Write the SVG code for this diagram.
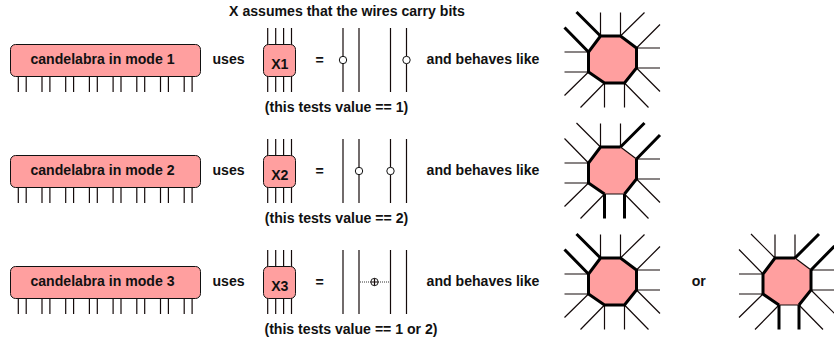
<svg xmlns="http://www.w3.org/2000/svg" xmlns:xlink="http://www.w3.org/1999/xlink" width="834" height="340" viewBox="0 0 834 340">
<style>
text{font-family:"Liberation Sans",Arial,sans-serif;font-weight:bold;font-size:14.1px;fill:#111}
.m{text-anchor:middle}
.w{fill:none;stroke:#140a0a;stroke-width:1.2}
.b{fill:#ff9f9f;stroke:#111;stroke-width:1}
.t{fill:none;stroke:#000;stroke-width:3}
.c{fill:#fff;stroke:#111;stroke-width:1}
.d{fill:none;stroke:#333;stroke-width:1;stroke-dasharray:1 1}
.o{fill:#ff9f9f;stroke:none}
</style>
<defs>
<g id="cand">
<path class="w" d="M18.300 76V92M26.200 76V92M42 76V92M49.900 76V92M65.700 76V92M73.600 76V92M89.400 76V92M97.300 76V92M113.100 76V92M121 76V92M136.800 76V92M144.700 76V92M160.500 76V92M168.400 76V92M184.200 76V92M192.100 76V92"/>
<rect class="b" x="10.500" y="44.500" width="190" height="32" rx="5"/>
</g>
<g id="xbox">
<path class="w" d="M267.700 28V92M275.700 28V92M283.600 28V92M291.500 28V92"/>
<rect class="b" x="263.500" y="44.500" width="32" height="32" rx="5"/>
</g>
<path id="lines" class="w" d="M343 28V92M359 28V92M390.500 28V92M406.500 28V92"/>
<path id="spokes" class="w" d="M600.500 36V12.500M620.500 36V12.500M620.500 36L644.500 12.500M636.500 48L660 24.500M636.500 48H660M636.500 68H660M636.500 68L660 91.500M624.500 83L648.500 107.500M624.500 83V107.500M604.500 83V107.500M604.500 83L580.500 107.500M588.500 72L564.500 95.500M588.500 72H564.500M588.500 52H564.500"/>
<g id="octA">
<use xlink:href="#spokes"/>
<polygon class="o" points="600.500,36 620.500,36 636.500,48 636.500,68 624.500,83 604.500,83 588.500,72 588.500,52"/>
<path class="t" d="M600.500 36L576.500 12M588.500 52L564.500 27.500"/>
<path class="t" d="M600.500 36H620.500L636.500 48V68L624.500 83H604.500L588.500 72V52Z"/>
</g>
<g id="octB">
<path class="w" d="M600.500 36V12.500M620.500 36V12.500M576.500 12L600.500 36M564.500 27.500L588.500 52M636.500 48H660M636.500 68H660M636.500 68L660 91.500M624.500 83L648.500 107.500M604.500 83L580.500 107.500M588.500 72L564.500 95.500M588.500 72H564.500M588.500 52H564.500"/>
<polygon class="o" points="600.500,36 620.500,36 636.500,48 636.500,68 624.500,83 604.500,83 588.500,72 588.500,52"/>
<path class="t" d="M620.500 36L644.500 12M636.500 48L660 24M604.500 83V107.500M624.500 83V107.500"/>
<path class="w" d="M620.500 36L636.500 48M624.500 83H604.500"/>
<path class="t" d="M636.500 48V68L624.500 83M604.500 83L588.500 72V52L600.500 36H620.500"/>
</g>
</defs>

<g id="connectors">
<use xlink:href="#lines"/>
<use xlink:href="#lines" transform="translate(0,111)"/>
<use xlink:href="#lines" transform="translate(0,222)"/>
<path class="d" d="M360 282H390"/>
</g>

<text class="m" x="347" y="16">X assumes that the wires carry bits</text>

<g id="candelabra1"><use xlink:href="#cand"/><text class="m" x="102.500" y="64">candelabra in mode 1</text></g>
<g id="candelabra2"><use xlink:href="#cand" transform="translate(0,111)"/><text class="m" x="102.500" y="175">candelabra in mode 2</text></g>
<g id="candelabra3"><use xlink:href="#cand" transform="translate(0,222)"/><text class="m" x="102.500" y="286">candelabra in mode 3</text></g>

<text class="m" x="228.500" y="64">uses</text>
<text class="m" x="228.500" y="175">uses</text>
<text class="m" x="228.500" y="286">uses</text>

<g id="x1"><use xlink:href="#xbox"/><text class="m" x="279.800" y="68.500">X1</text></g>
<g id="x2"><use xlink:href="#xbox" transform="translate(0,111)"/><text class="m" x="279.800" y="179.500">X2</text></g>
<g id="x3"><use xlink:href="#xbox" transform="translate(0,222)"/><text class="m" x="279.800" y="290.500">X3</text></g>

<text class="m" x="319.500" y="65">=</text>
<text class="m" x="319.500" y="176">=</text>
<text class="m" x="319.500" y="287">=</text>

<g id="gate1a"><circle class="c" cx="343" cy="60" r="3.700"/></g>
<g id="gate1b"><circle class="c" cx="406.500" cy="60" r="3.700"/></g>
<g id="gate2a"><circle class="c" cx="359" cy="171" r="3.700"/></g>
<g id="gate2b"><circle class="c" cx="390.500" cy="171" r="3.700"/></g>
<g id="gate3"><circle cx="374.500" cy="282" r="3.700" fill="#fff" stroke="#222" stroke-width="1"/><path class="w" d="M370.800 282H378.200M374.500 278.300V285.700"/></g>

<text class="m" x="483" y="64">and behaves like</text>
<text class="m" x="483" y="175">and behaves like</text>
<text class="m" x="483" y="286">and behaves like</text>

<text class="m" x="336.500" y="112">(this tests value == 1)</text>
<text class="m" x="336.500" y="223">(this tests value == 2)</text>
<text class="m" x="351" y="334">(this tests value == 1 or 2)</text>

<g id="octagon1"><use xlink:href="#octA"/></g>
<g id="octagon2"><use xlink:href="#octB" transform="translate(0,111)"/></g>
<g id="octagon3"><use xlink:href="#octA" transform="translate(0,222)"/></g>

<text class="m" x="698.700" y="286">or</text>

<g id="octagon4"><use xlink:href="#octB" transform="translate(174.500,222)"/></g>
</svg>
